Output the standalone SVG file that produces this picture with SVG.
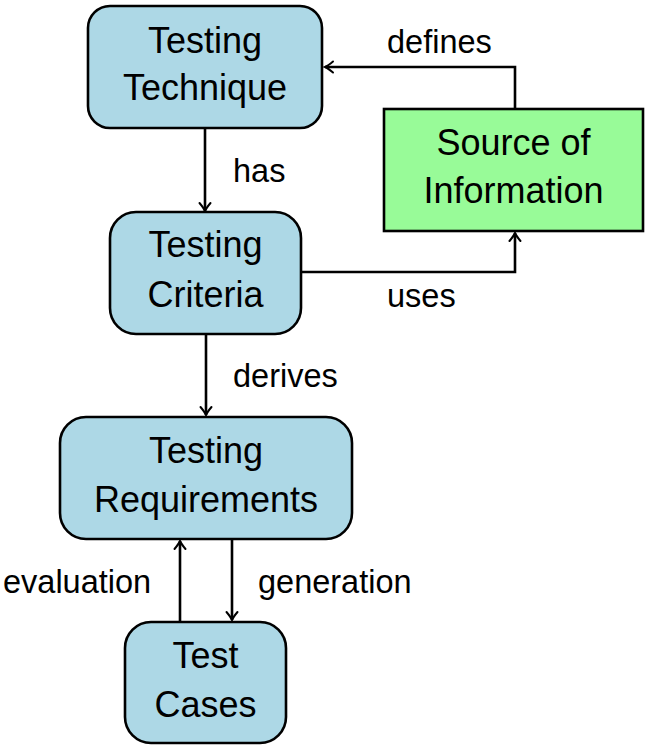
<svg xmlns="http://www.w3.org/2000/svg" width="651" height="752" viewBox="0 0 651 752">
<style>
.node{fill:#ADD8E6;stroke:#000;stroke-width:2.6}
.src{fill:#98FB98;stroke:#000;stroke-width:2.6}
.nt{font-family:"Liberation Sans",Arial,sans-serif;font-size:36px;text-anchor:middle;fill:#000}
.lbl{font-family:"Liberation Sans",Arial,sans-serif;font-size:32.5px;fill:#000}
.edge{fill:none;stroke:#000;stroke-width:2.6}
</style>
<defs>
<marker id="arr" markerUnits="userSpaceOnUse" markerWidth="18" markerHeight="18" viewBox="-11 -9 13 18" refX="0" refY="0" orient="auto">
<path d="M-8,-5.5 Q-3,-1.3 0,0 Q-3,1.3 -8,5.5" fill="none" stroke="#000" stroke-width="2" stroke-linecap="round"/>
</marker>
</defs>
<g id="connectors">
<path class="edge" d="M205,128 V211" marker-end="url(#arr)"/>
<path class="edge" d="M515,108 V67 H325" marker-end="url(#arr)"/>
<path class="edge" d="M301,272 H515 V233" marker-end="url(#arr)"/>
<path class="edge" d="M206,334 V415" marker-end="url(#arr)"/>
<path class="edge" d="M232,539 V620" marker-end="url(#arr)"/>
<path class="edge" d="M180,622 V541" marker-end="url(#arr)"/>
<text class="lbl" x="233" y="182">has</text>
<text class="lbl" x="387" y="53">defines</text>
<text class="lbl" x="387" y="307">uses</text>
<text class="lbl" x="233" y="387">derives</text>
<text class="lbl" x="3" y="593">evaluation</text>
<text class="lbl" x="258" y="593">generation</text>
</g>
<g id="technique">
<rect class="node" x="88" y="6" width="234" height="122" rx="22"/>
<text class="nt" x="205" y="53">Testing</text>
<text class="nt" x="205" y="100">Technique</text>
</g>
<g id="source">
<rect class="src" x="384" y="109" width="259" height="122"/>
<text class="nt" x="513.5" y="155">Source of</text>
<text class="nt" x="513.5" y="203">Information</text>
</g>
<g id="criteria">
<rect class="node" x="110" y="212" width="191" height="122" rx="26"/>
<text class="nt" x="205.5" y="257">Testing</text>
<text class="nt" x="205.5" y="307">Criteria</text>
</g>
<g id="requirements">
<rect class="node" x="60" y="417" width="292" height="122" rx="26"/>
<text class="nt" x="206" y="463">Testing</text>
<text class="nt" x="206" y="512">Requirements</text>
</g>
<g id="testcases">
<rect class="node" x="125" y="622" width="161" height="121" rx="26"/>
<text class="nt" x="205.5" y="668">Test</text>
<text class="nt" x="205.5" y="717">Cases</text>
</g>
</svg>
